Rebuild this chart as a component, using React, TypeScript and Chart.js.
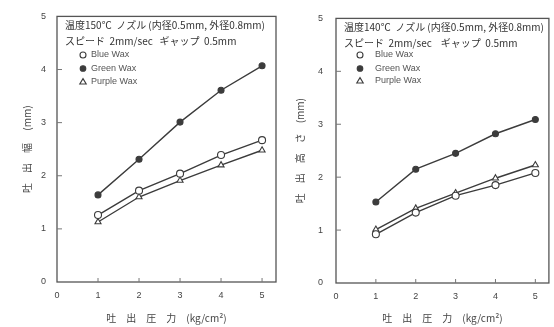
import React, { useEffect, useRef } from 'react';
import { Chart, registerables } from 'chart.js';

Chart.register(...registerables);

// Extrusion pressure (kg/cm²) used for every series
const pressures = [1, 2, 3, 4, 5];
const xTickValues = [0, 1, 2, 3, 4, 5];
const yTickValues = [0, 1, 2, 3, 4, 5];
const seriesNames = ['Blue Wax', 'Green Wax', 'Purple Wax'];

// Bead width (mm) at 150℃
const widthBlue = [1.26, 1.72, 2.04, 2.39, 2.67];
const widthGreen = [1.64, 2.31, 3.01, 3.61, 4.07];
const widthPurple = [1.13, 1.6, 1.91, 2.2, 2.48];

// Bead height (mm) at 140℃
const heightBlue = [0.92, 1.33, 1.65, 1.85, 2.08];
const heightGreen = [1.53, 2.15, 2.45, 2.82, 3.09];
const heightPurple = [1.01, 1.41, 1.7, 1.98, 2.23];

const leftHeader = ['温度150℃  ノズル (内径0.5mm, 外径0.8mm)', 'スピード  2mm/sec   ギャップ  0.5mm'];
const rightHeader = ['温度140℃  ノズル (内径0.5mm, 外径0.8mm)', 'スピード  2mm/sec    ギャップ  0.5mm'];
const leftYTitle = '吐　出　幅　 (mm)';
const rightYTitle = '吐　出　高　さ　(mm)';
const xTitle = '吐　出　圧　力　(kg/cm²)';

const INK = '#3c3c3c';
const TEXT = '#444';
const CANVAS_H = 327;
const JP = '"Noto Sans CJK JP", "Noto Sans", sans-serif';
const LAT = '"Liberation Sans", "DejaVu Sans", sans-serif';

type Plot = { l: number; r: number; t: number; b: number };

type PanelProps = {
  offset: number;
  width: number;
  plot: Plot;
  header: string[];
  yTitle: string;
  yTitlePad: number;
  yTickPad: number;
  blue: number[];
  green: number[];
  purple: number[];
  legendMarkerX: number;
  legendTextX: number;
  legendRows: number[];
};

function drawMarker(ctx: CanvasRenderingContext2D, kind: number, x: number, y: number) {
  ctx.save();
  ctx.strokeStyle = INK;
  ctx.lineWidth = 1.1;
  ctx.beginPath();
  if (kind === 2) {
    const r = 3.4;
    ctx.moveTo(x, y - r);
    ctx.lineTo(x + r * 0.95, y + r * 0.6);
    ctx.lineTo(x - r * 0.95, y + r * 0.6);
    ctx.closePath();
    ctx.fillStyle = '#fff';
  } else {
    ctx.arc(x, y, kind === 1 ? 2.8 : 3, 0, Math.PI * 2);
    ctx.fillStyle = kind === 1 ? INK : '#fff';
  }
  ctx.fill();
  ctx.stroke();
  ctx.restore();
}

function Panel(props: PanelProps) {
  const ref = useRef<HTMLCanvasElement | null>(null);

  useEffect(() => {
    const canvas = ref.current;
    if (!canvas) return;
    const { plot, width } = props;

    const frame = {
      id: 'frameAndNotes',
      afterDraw(chart: any) {
        const ctx: CanvasRenderingContext2D = chart.ctx;
        const a = chart.chartArea;
        const xs = chart.scales.x;
        const ys = chart.scales.y;
        ctx.save();
        // plot frame
        ctx.strokeStyle = '#555';
        ctx.lineWidth = 1.3;
        ctx.strokeRect(a.left, a.top, a.right - a.left, a.bottom - a.top);
        // inward tick marks
        ctx.lineWidth = 1;
        ctx.strokeStyle = '#777';
        ctx.beginPath();
        for (const v of xTickValues.slice(1)) {
          const px = xs.getPixelForValue(v);
          ctx.moveTo(px, a.bottom);
          ctx.lineTo(px, a.bottom - 4);
        }
        for (const v of yTickValues.slice(1, -1)) {
          const py = ys.getPixelForValue(v);
          ctx.moveTo(a.left, py);
          ctx.lineTo(a.left + 5, py);
        }
        ctx.stroke();
        // condition header
        ctx.fillStyle = '#333';
        ctx.font = `10px ${JP}`;
        ctx.textBaseline = 'middle';
        ctx.textAlign = 'left';
        ctx.fillText(props.header[0], a.left + 8, a.top + 9);
        ctx.fillText(props.header[1], a.left + 8, a.top + 25);
        // legend
        ctx.font = `9px ${LAT}`;
        ctx.fillStyle = '#555';
        seriesNames.forEach((name, i) => {
          const y = props.legendRows[i];
          drawMarker(ctx, i, props.legendMarkerX, y);
          ctx.fillStyle = '#555';
          ctx.fillText(name, props.legendTextX, y);
        });
        ctx.restore();
      },
    };

    const mk = (label: string, values: number[], kind: number) => ({
      label,
      data: pressures.map((x, i) => ({ x, y: values[i] })),
      borderColor: INK,
      borderWidth: 1.4,
      pointStyle: kind === 2 ? 'triangle' : 'circle',
      pointRadius: kind === 1 ? 3 : 3.5,
      pointBackgroundColor: kind === 1 ? INK : '#fff',
      pointBorderColor: INK,
      pointBorderWidth: 1.1,
      tension: 0,
    });

    const chart = new Chart(canvas, {
      type: 'line',
      data: {
        datasets: [
          mk(seriesNames[0], props.blue, 0),
          mk(seriesNames[1], props.green, 1),
          mk(seriesNames[2], props.purple, 2),
        ],
      },
      options: {
        animation: false,
        responsive: false,
        maintainAspectRatio: false,
        layout: { padding: { left: 0, top: plot.t, right: width - plot.r, bottom: 0 } },
        plugins: { legend: { display: false }, tooltip: { enabled: false } },
        scales: {
          x: {
            type: 'linear',
            min: 0,
            max: 5.34,
            afterBuildTicks: (s: any) => {
              s.ticks = xTickValues.map((v) => ({ value: v }));
            },
            afterFit: (s: any) => {
              s.height = CANVAS_H - plot.b;
            },
            grid: { display: false, drawTicks: false },
            border: { display: false },
            ticks: { padding: 8, color: TEXT, font: { family: LAT, size: 9 }, maxRotation: 0, autoSkip: false },
            title: {
              display: true,
              text: xTitle,
              color: TEXT,
              font: { family: JP, size: 10 },
              padding: { top: 0, bottom: 3 },
            },
          },
          y: {
            type: 'linear',
            min: 0,
            max: 5,
            afterBuildTicks: (s: any) => {
              s.ticks = yTickValues.map((v) => ({ value: v }));
            },
            afterFit: (s: any) => {
              s.width = plot.l;
            },
            grid: { display: false, drawTicks: false },
            border: { display: false },
            ticks: { padding: props.yTickPad, color: TEXT, font: { family: LAT, size: 9 } },
            title: {
              display: true,
              text: props.yTitle,
              color: TEXT,
              font: { family: JP, size: 10 },
              padding: { top: props.yTitlePad, bottom: 0 },
            },
          },
        },
      } as any,
      plugins: [frame],
    });
    return () => chart.destroy();
  }, []);

  return (
    <canvas
      ref={ref}
      width={props.width}
      height={CANVAS_H}
      style={{ position: 'absolute', left: props.offset, top: 0, width: props.width, height: CANVAS_H }}
    />
  );
}

export default function App() {
  return (
    <div style={{ position: 'fixed', left: 0, top: 0, width: 554, height: 327, background: '#fff', overflow: 'hidden' }}>
      <Panel
        offset={0}
        width={282}
        plot={{ l: 57, r: 276, t: 13, b: 282 }}
        header={leftHeader}
        yTitle={leftYTitle}
        yTitlePad={21}
        yTickPad={11}
        blue={widthBlue}
        green={widthGreen}
        purple={widthPurple}
        legendMarkerX={83}
        legendTextX={91}
        legendRows={[55, 68.5, 82]}
      />
      <Panel
        offset={282}
        width={272}
        plot={{ l: 54, r: 270, t: 15, b: 283 }}
        header={rightHeader}
        yTitle={rightYTitle}
        yTitlePad={12}
        yTickPad={13}
        blue={heightBlue}
        green={heightGreen}
        purple={heightPurple}
        legendMarkerX={78}
        legendTextX={93}
        legendRows={[55, 68.5, 81]}
      />
    </div>
  );
}
